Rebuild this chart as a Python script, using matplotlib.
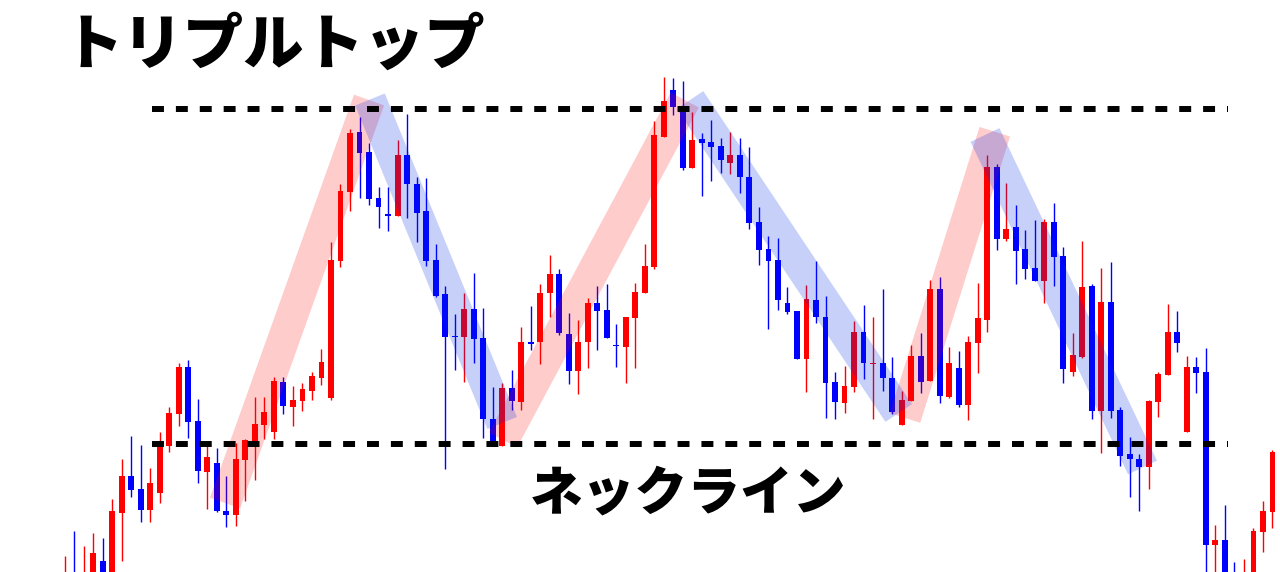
import matplotlib
matplotlib.use("Agg")
import matplotlib.pyplot as plt
import numpy as np

plt.rcParams['font.family'] = ['Noto Sans CJK JP', 'DejaVu Sans']

# ---- data (price levels, arbitrary units) ----
opens = [-38, -6, -23, -8, 11, -13, 59, 96, 83, 62, 79, 126, 158, 205, 151, 100,
         109, 61, 57, 112, 130, 147, 140, 190, 165, 171, 181, 194, 174, 311,
         380, 440, 420, 374, 358, 356, 417, 388, 361, 312, 278, 236.5, 235, 263,
         234, 153, 126, 184, 170, 230, 230, 279, 298, 238, 201, 230, 269, 262,
         227.5, 225, 254, 279, 305, 435, 482, 460, 404, 433, 430, 426, 409, 417,
         395, 350, 323, 312, 269, 261, 213, 272, 255, 190, 169, 185, 240, 208,
         209, 194, 147, 171, 216, 191, 283, 175, 204, 167, 229, 252, 405, 333,
         345, 323, 304, 291, 350, 316, 200, 215, 286, 161, 270, 162, 118, 113,
         105, 170, 197, 240, 140, 205, 200, 27, 32, -8, -20, -10, 40, 60]
closes = [-8, -28, -3, 19, -13, 61, 96, 82, 62, 89, 127, 159, 205, 150, 101, 115,
          61, 57, 113, 132, 148, 160, 191, 166, 172, 183, 196, 210, 312, 381,
          439, 419, 373, 365, 356, 417, 388, 359, 311, 276, 235, 235, 263, 233,
          153, 130, 184, 171, 230, 228.5, 279, 298, 239, 201, 230, 269, 261, 234,
          226, 255, 280, 306, 437, 471, 465, 404, 432, 429, 425, 412, 417, 395,
          349, 322, 311, 272, 260, 213, 273, 255, 189, 170, 186, 240, 209, 209,
          194, 160, 172, 216, 190, 283, 176, 209, 167, 230, 254, 405, 333, 343,
          321, 303, 291, 350, 315, 203, 217, 285, 161, 270, 161, 116, 113, 105,
          171, 198, 240, 229, 205, 199, 27, 32, -15, -25, -6, 41, 61, 120]
highs = [16, 41, 26, 39, 34, 73, 113, 136, 127, 104, 140, 165, 209, 212, 173, 131,
         124, 96, 129, 133, 175, 175, 195, 195, 186, 189, 200, 223, 330, 388,
         443, 455, 429, 385, 385, 432, 458, 395, 394, 328, 286, 258, 279, 299,
         264, 185, 189, 202, 245, 266, 288, 317, 303, 259, 252, 274, 286, 288,
         248, 255, 289, 328, 451, 495, 494, 491, 460, 439, 452, 434, 440, 434,
         425, 365, 336, 334, 285, 261, 287, 311, 276, 200, 206, 251, 267, 255,
         283, 215, 181, 227, 239, 292, 295, 225, 221, 236, 289, 417, 408, 389,
         367, 342, 352, 353, 369, 325, 239, 331, 288, 304, 310, 165, 135, 118,
         172, 200, 268, 261, 216, 215, 224, 47, 67, 10, 13, 44, 71, 122]
lows = [-48, -38, -35, -20, -25, -25, 11, 75, 50, 50, 69, 120, 146, 134, 89, 63,
        60, 45, 46, 71, 92, 133, 133, 158, 146, 161, 172, 187, 172, 305,
        361, 374, 367, 344, 341, 356, 354, 330, 306, 275, 103, 202, 190, 209,
        134, 130, 126, 162, 162, 222, 208, 255, 237, 188, 178, 204, 222, 234,
        205, 189, 204, 279, 303, 435, 457, 402, 404, 376, 391, 399, 398, 379,
        343, 307, 243, 262, 258, 213, 180, 249, 154, 153, 159, 180, 193, 153,
        181, 158, 147, 171, 179, 191, 169, 174, 165, 152, 199, 240, 322, 331,
        288, 293, 291, 269, 286, 189, 196, 214, 153, 119, 154, 106, 75, 61,
        83, 155, 197, 220, 140, 179, -18, -25, -30, -35, -30, -20, 20, 44]

# neckline / top reference levels
top_level = 463
neck_level = 128.5
level_span = (9.2, 122.3)

# trend bands: (start index, start price, end index, end price)
up_bands = [(16.86, 69, 32.0, 472), (46.09, 132, 65.2, 472), (88.36, 154, 97.8, 440.3)]
down_bands = [(32.1, 472.5, 46.0, 149), (65.75, 472, 87.7, 159), (96.77, 437, 113.33, 104.5)]

title = "トリプルトップ"
neck_label = "ネックライン"

# ---- figure ----
fig = plt.figure(figsize=(12.8, 5.72), dpi=100)
ax = fig.add_axes([0, 0, 1, 1])
ax.set_axis_off()
ax.set_xlim(-6.803, 127.79)
ax.set_ylim(0, 572)

UP = '#ff0000'
DOWN = '#0000ff'
n = len(opens)
idx = np.arange(n)
o = np.array(opens, float)
c = np.array(closes, float)
h = np.array(highs, float)
l = np.array(lows, float)
cols = [UP if cc >= oo else DOWN for oo, cc in zip(o, c)]

ax.vlines(idx, l, h, colors=cols, linewidth=1.0, zorder=2)
bottoms = np.minimum(o, c)
heights = np.maximum(np.abs(c - o), 1.2)
ax.bar(idx, heights, bottom=bottoms, width=0.62, color=cols, linewidth=0, zorder=3)

for x0, y0, x1, y1 in up_bands:
    ax.plot([x0, x1], [y0, y1], color=(1.0, 0.0, 0.0), alpha=0.2, lw=23,
            solid_capstyle='butt', zorder=4)
for x0, y0, x1, y1 in down_bands:
    ax.plot([x0, x1], [y0, y1], color=(0.0, 0.16, 0.91), alpha=0.22, lw=23,
            solid_capstyle='butt', zorder=4)

for lvl in (top_level, neck_level):
    ax.plot(level_span, [lvl, lvl], color='black', lw=4.3,
            linestyle=(0, (2.0, 2.0)), dash_capstyle='butt', zorder=5)

fig.text(63 / 1280, 1 - 46 / 572, title, fontsize=43.5, fontweight='black',
         ha='left', va='center', color='black')
fig.text(688 / 1280, 1 - 494 / 572, neck_label, fontsize=38, fontweight='black',
         ha='center', va='center', color='black')

fig.savefig('out.png', dpi=100, facecolor='white')
